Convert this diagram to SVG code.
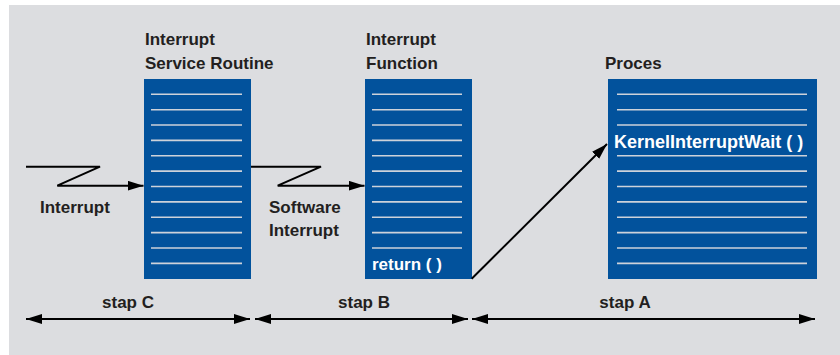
<svg xmlns="http://www.w3.org/2000/svg" width="840" height="355" viewBox="0 0 840 355">
<defs>
<style>
.lbl{font-family:"Liberation Sans",Arial,sans-serif;font-weight:bold;font-size:17px;fill:#231f20}
.wt{font-family:"Liberation Sans",Arial,sans-serif;font-weight:bold;font-size:17px;fill:#ffffff}
.box{fill:#02529c}
.ln{stroke:#cdd2da;stroke-width:1.6}
.con{fill:none;stroke:#000;stroke-width:2}
</style>
<marker id="ah" viewBox="0 0 16 10" refX="16" refY="5" markerWidth="16" markerHeight="10" markerUnits="userSpaceOnUse" orient="auto-start-reverse">
<path d="M0,0 L16,5 L0,10 z" fill="#000"/>
</marker>
</defs>
<rect x="0" y="0" width="840" height="355" fill="#ffffff"/>
<rect x="9" y="5" width="831" height="350" fill="#dcdde0"/>

<g id="isr">
<text class="lbl" x="145" y="45">Interrupt</text>
<text class="lbl" x="145" y="69">Service Routine</text>
<rect class="box" x="144" y="79" width="107" height="200"/>
<g class="ln">
<line x1="151" x2="242" y1="94.3" y2="94.3"/>
<line x1="151" x2="242" y1="109.7" y2="109.7"/>
<line x1="151" x2="242" y1="125" y2="125"/>
<line x1="151" x2="242" y1="140.4" y2="140.4"/>
<line x1="151" x2="242" y1="155.8" y2="155.8"/>
<line x1="151" x2="242" y1="171.1" y2="171.1"/>
<line x1="151" x2="242" y1="186.5" y2="186.5"/>
<line x1="151" x2="242" y1="201.9" y2="201.9"/>
<line x1="151" x2="242" y1="217.3" y2="217.3"/>
<line x1="151" x2="242" y1="232.6" y2="232.6"/>
<line x1="151" x2="242" y1="248" y2="248"/>
<line x1="151" x2="242" y1="263.4" y2="263.4"/>
</g>
</g>

<g id="function">
<text class="lbl" x="366" y="45">Interrupt</text>
<text class="lbl" x="366" y="69">Function</text>
<rect class="box" x="365" y="79" width="107" height="200"/>
<g class="ln">
<line x1="372" x2="462" y1="94.3" y2="94.3"/>
<line x1="372" x2="462" y1="109.7" y2="109.7"/>
<line x1="372" x2="462" y1="125" y2="125"/>
<line x1="372" x2="462" y1="140.4" y2="140.4"/>
<line x1="372" x2="462" y1="155.8" y2="155.8"/>
<line x1="372" x2="462" y1="171.1" y2="171.1"/>
<line x1="372" x2="462" y1="186.5" y2="186.5"/>
<line x1="372" x2="462" y1="201.9" y2="201.9"/>
<line x1="372" x2="462" y1="217.3" y2="217.3"/>
<line x1="372" x2="462" y1="232.6" y2="232.6"/>
<line x1="372" x2="462" y1="248" y2="248"/>
</g>
<text class="wt" x="372" y="270">return ( )</text>
</g>

<g id="proces">
<text class="lbl" x="605" y="69">Proces</text>
<rect class="box" x="608" y="79" width="209" height="200"/>
<g class="ln">
<line x1="617" x2="807" y1="94.3" y2="94.3"/>
<line x1="617" x2="807" y1="109.7" y2="109.7"/>
<line x1="617" x2="807" y1="125" y2="125"/>
<line x1="617" x2="807" y1="155.8" y2="155.8"/>
<line x1="617" x2="807" y1="171.1" y2="171.1"/>
<line x1="617" x2="807" y1="186.5" y2="186.5"/>
<line x1="617" x2="807" y1="201.9" y2="201.9"/>
<line x1="617" x2="807" y1="217.3" y2="217.3"/>
<line x1="617" x2="807" y1="232.6" y2="232.6"/>
<line x1="617" x2="807" y1="248" y2="248"/>
<line x1="617" x2="807" y1="263.4" y2="263.4"/>
</g>
<text class="wt" x="614" y="148.3" style="font-size:18px">KernelInterruptWait ( )</text>
</g>

<g id="connectors">
<path class="con" d="M26,166.7 H100 L57.3,185.7 H143.5" marker-end="url(#ah)"/>
<path class="con" d="M251,166.7 H321 L277.7,185.7 H364.5" marker-end="url(#ah)"/>
<path class="con" d="M471.7,278.7 L607,144" marker-end="url(#ah)"/>
<path class="con" d="M26,319 H250" marker-start="url(#ah)" marker-end="url(#ah)"/>
<path class="con" d="M255,319 H468" marker-start="url(#ah)" marker-end="url(#ah)"/>
<path class="con" d="M472,319 H815" marker-start="url(#ah)" marker-end="url(#ah)"/>
</g>

<g id="labels">
<text class="lbl" x="40" y="213">Interrupt</text>
<text class="lbl" x="269" y="213">Software</text>
<text class="lbl" x="269" y="236">Interrupt</text>
<text class="lbl" x="128" y="308" text-anchor="middle">stap C</text>
<text class="lbl" x="364" y="308" text-anchor="middle">stap B</text>
<text class="lbl" x="625" y="308" text-anchor="middle">stap A</text>
</g>
</svg>
